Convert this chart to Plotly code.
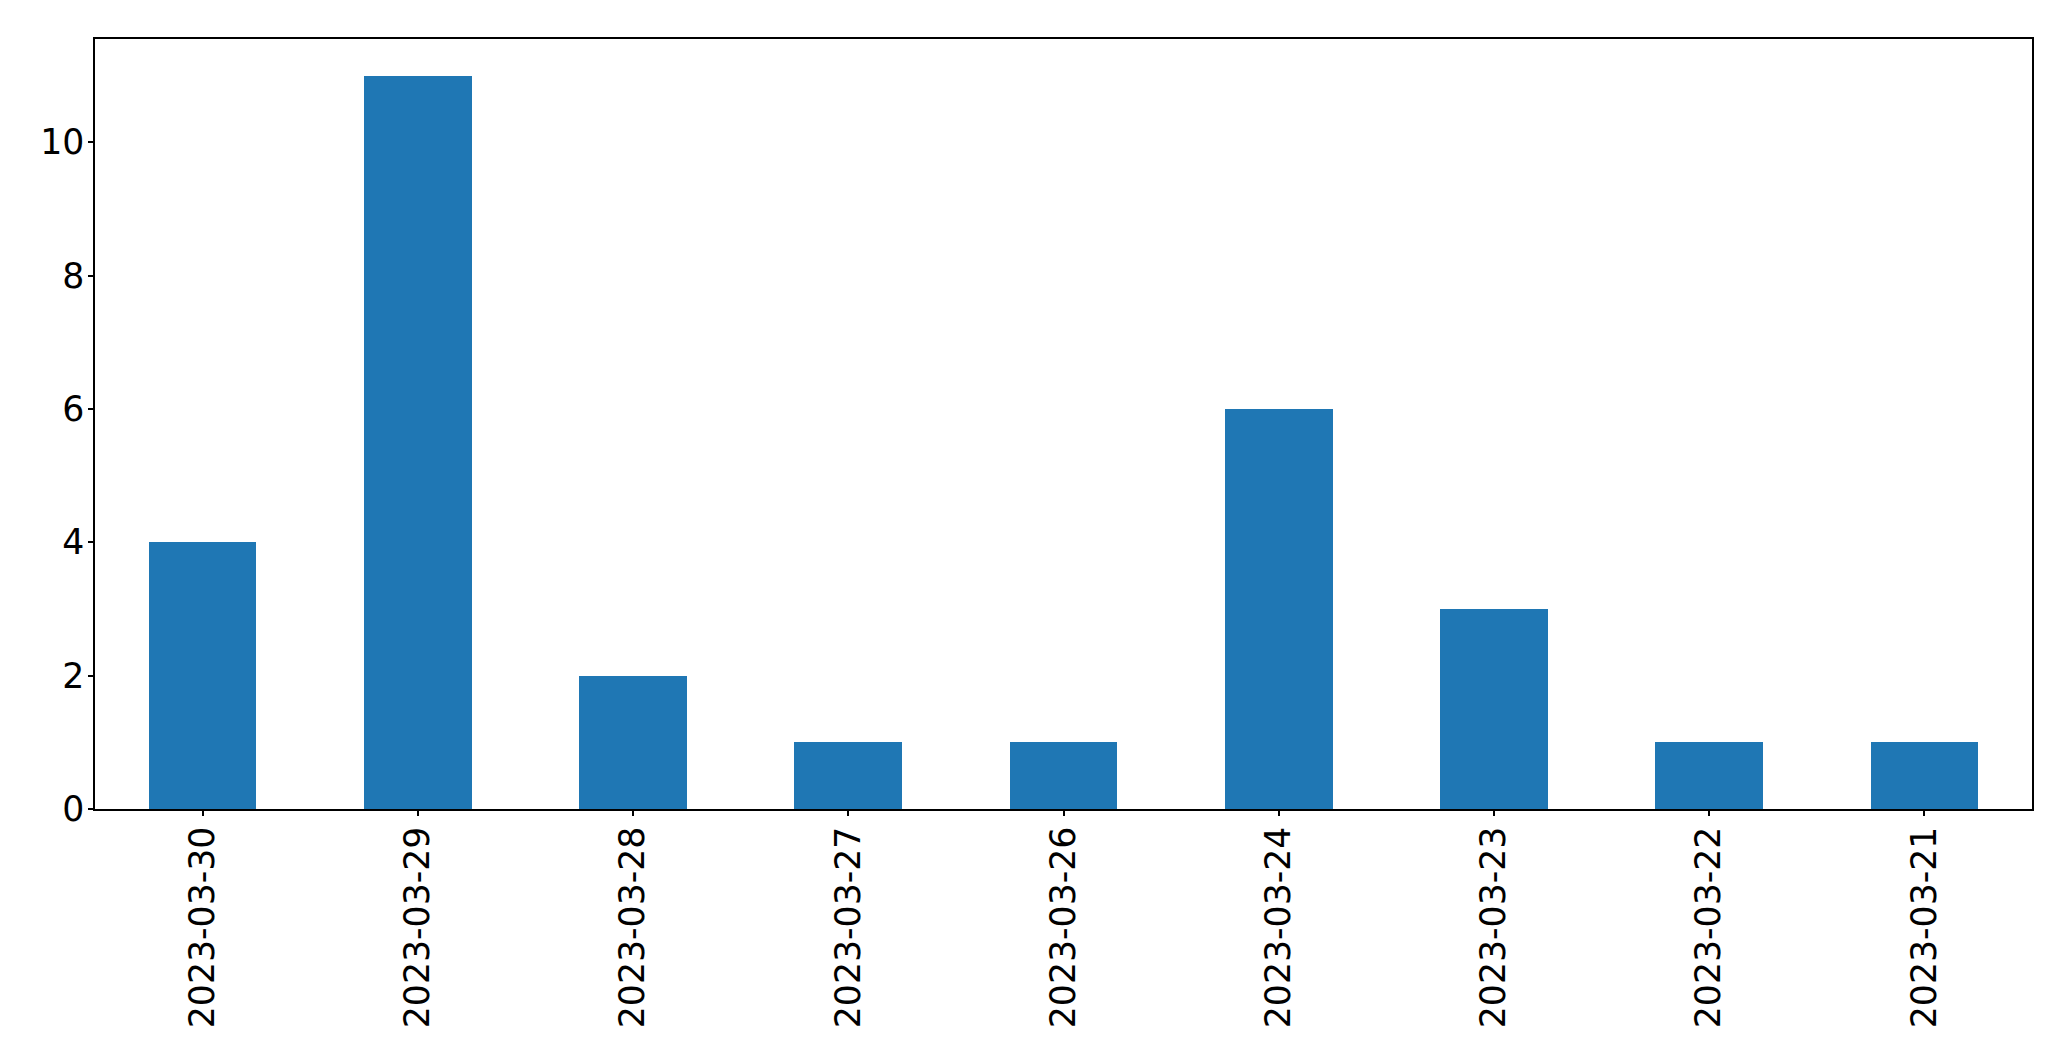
import plotly.graph_objects as go

dates = ["2023-03-30", "2023-03-29", "2023-03-28", "2023-03-27", "2023-03-26",
         "2023-03-24", "2023-03-23", "2023-03-22", "2023-03-21"]
counts = [4, 11, 2, 1, 1, 6, 3, 1, 1]
y_ticks = [0, 2, 4, 6, 8, 10]

fig = go.Figure(go.Bar(x=dates, y=counts, width=0.5, marker=dict(color="#1f77b4", line=dict(width=0))))

font = dict(family="DejaVu Sans", size=34.7, color="black")
# page body has an 8px margin, so the figure is offset by (8, 8)
fig.update_layout(
    width=2063, height=1053,
    margin=dict(l=87, r=39, t=31, b=252),
    paper_bgcolor="white", plot_bgcolor="white",
    showlegend=False,
    font=font,
    bargap=0,
)
fig.update_xaxes(
    type="category", range=[-0.5, 8.5],
    showline=True, linecolor="black", linewidth=1.5, mirror=True,
    ticks="outside", ticklen=5, tickwidth=1.5, tickcolor="black",
    tickangle=-90, tickfont=font, showgrid=False, zeroline=False,
    automargin=False, ticklabelstandoff=-3,
)
fig.update_yaxes(
    range=[0, 11.55], tickvals=y_ticks,
    showline=True, linecolor="black", linewidth=1.5, mirror=True,
    ticks="outside", ticklen=5, tickwidth=1.5, tickcolor="black",
    tickfont=font, showgrid=False, zeroline=False, automargin=False,
    ticklabelstandoff=-3,
)
fig.write_html("out.html")
